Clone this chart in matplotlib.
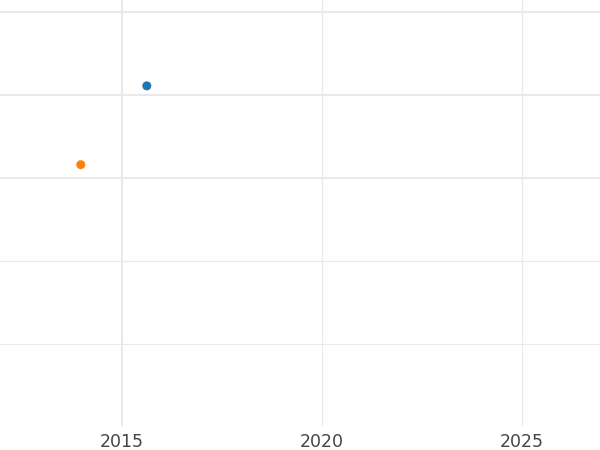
import matplotlib
matplotlib.use("Agg")
import matplotlib.pyplot as plt

plt.rcParams.update({"font.family": "DejaVu Sans"})

# data
years = [2015.62, 2013.97]
values = [3.11, 2.16]
colors = ["#1f77b4", "#ff7f0e"]
xticks = [2015, 2020, 2025]
yticks = [0, 1, 2, 3, 4]

fig = plt.figure(figsize=(6, 4.5), dpi=100)
ax = fig.add_axes([0, 1 - 426/450, 1, 426/450])

ax.scatter(years, values, s=42, c=colors, zorder=3, linewidths=0)

ax.set_xlim(2011.95, 2026.95)
ax.set_ylim(-0.99, 4.145)
ax.set_xticks(xticks)
ax.set_yticks(yticks)
ax.set_yticklabels([])
ax.tick_params(length=0, pad=5, labelsize=12.5, labelcolor="#444444")
for s in ax.spines.values():
    s.set_visible(False)

ax.grid(True, color="#e9e9e9")
ax.set_axisbelow(True)
# heavier lines at 2015 and the upper three rows, as in the reference
for ln, t in zip(ax.xaxis.get_gridlines(), xticks):
    ln.set_linewidth(1.5 if t == 2015 else 0.8)
for ln, t in zip(ax.yaxis.get_gridlines(), yticks):
    ln.set_linewidth(1.5 if t >= 2 else 0.8)

fig.savefig("out.png", dpi=100)
